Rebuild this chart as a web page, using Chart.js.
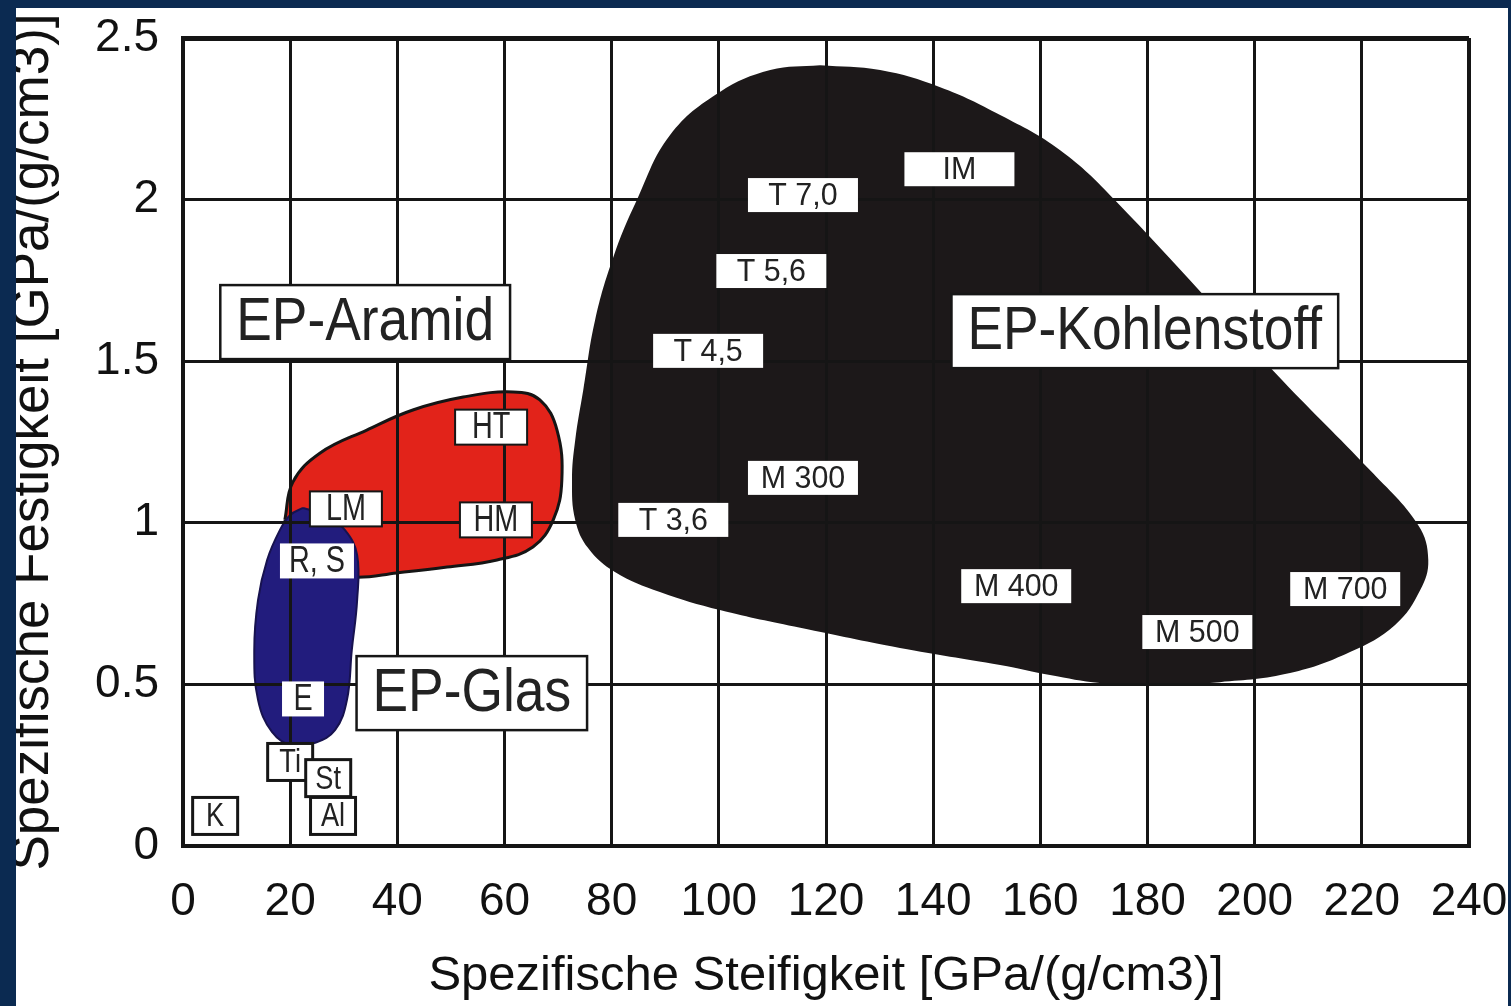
<!DOCTYPE html>
<html>
<head>
<meta charset="utf-8">
<script src="https://cdn.jsdelivr.net/npm/chart.js@4.4.1/dist/chart.umd.min.js"></script>
<style>
  html, body { margin: 0; padding: 0; background: #0b2a51; }
  body { width: 1511px; height: 1006px; overflow: hidden; position: relative; }
  #wrap { position: absolute; left: 16px; top: 8px; width: 1492px; height: 998px; background: #fff; }
</style>
</head>
<body>
<div id="wrap"><canvas id="chart" width="1492" height="998"></canvas></div>
<script>
// outlines of the three material regions (spec. stiffness, spec. strength)
const glassX = [22.4, 26.5, 30.2, 32.5, 32.5, 31.5, 30.6, 28.4, 24.6, 20.5, 16.6, 14.0, 13.3, 14.0, 15.7, 18.1, 20.0];
const glassY = [1.046, 1.024, 0.978, 0.900, 0.761, 0.606, 0.452, 0.359, 0.319, 0.309, 0.353, 0.452, 0.606, 0.761, 0.885, 0.978, 1.024];

const aramidX = [19.0, 20.5, 25.6, 34.3, 42.9, 52.3, 61.6, 66.6, 69.8, 70.7, 69.1, 65.3, 58.6, 49.3, 39.9, 32.1, 25.6, 20.9];
const aramidY = [1.009, 1.126, 1.216, 1.287, 1.349, 1.389, 1.405, 1.380, 1.287, 1.132, 1.009, 0.925, 0.885, 0.863, 0.845, 0.832, 0.854, 0.916];

const carbonX = [118.9, 130.1, 141.3, 152.5, 163.7, 173.9, 205.1, 221.5, 230.5, 232.4, 230.9, 226.2,
                 217.8, 206.6, 193.5, 180.5, 171.1, 161.8, 152.5, 133.8, 115.2, 100.2, 89.0, 80.6, 75.6, 73.2, 72.6, 73.2,
                 74.7, 76.9, 80.3, 84.7, 90.9, 100.2, 109.6];
const carbonY = [2.416, 2.401, 2.348, 2.262, 2.153, 1.999, 1.442, 1.163, 0.993, 0.885, 0.792, 0.684,
                 0.600, 0.535, 0.507, 0.498, 0.504, 0.529, 0.560, 0.613, 0.675, 0.730, 0.786, 0.848, 0.922, 1.009, 1.132, 1.256,
                 1.411, 1.627, 1.822, 1.999, 2.200, 2.333, 2.401];

// labels
const regionNames = ['EP-Aramid', 'EP-Kohlenstoff', 'EP-Glas'];
const regionLabelX = [34.0, 179.5, 53.9];
const regionLabelY = [1.621, 1.593, 0.473];

const carbonTypes = ['IM', 'T 7,0', 'T 5,6', 'T 4,5', 'M 300', 'T 3,6', 'M 400', 'M 500', 'M 700'];
const carbonTypeX = [144.9, 115.7, 109.8, 98.0, 115.7, 91.5, 155.5, 189.3, 216.9];
const carbonTypeY = [2.094, 2.014, 1.779, 1.532, 1.139, 1.009, 0.804, 0.662, 0.795];

const aramidTypes = ['HT', 'LM', 'HM'];
const aramidTypeX = [57.5, 30.4, 58.4];
const aramidTypeY = [1.296, 1.043, 1.009];

const glassTypes = ['R, S', 'E'];
const glassTypeX = [25.0, 22.4];
const glassTypeY = [0.882, 0.455];

const metalNames = ['Ti', 'St', 'Al', 'K'];
const metalX = [20.0, 27.1, 28.0, 6.0];
const metalY = [0.260, 0.210, 0.093, 0.093];

const xTicks = [0, 20, 40, 60, 80, 100, 120, 140, 160, 180, 200, 220, 240];
const yTicks = [0, 0.5, 1, 1.5, 2, 2.5];

const FONT = '"Liberation Sans", Arial, sans-serif';

function region(label, xs, ys, fill, line, width) {
    const pts = xs.map((x, i) => ({ x, y: ys[i] }));
    pts.push(pts[0]); // close the outline
    return {
        label,
        data: pts,
        showLine: true,
        fill: 'shape',
        backgroundColor: fill,
        borderColor: line,
        borderWidth: width,
        pointRadius: 0,
        pointHoverRadius: 0,
        tension: 0.4
    };
}

const labelGroups = [
    { names: regionNames, xs: regionLabelX, ys: regionLabelY, font: 62, squeeze: 0.86, minW: 0, pad: 16, h: 74, border: 2.5 },
    { names: carbonTypes, xs: carbonTypeX, ys: carbonTypeY, font: 32, squeeze: 0.95, minW: 110, pad: 8, h: 34, border: 0 },
    { names: aramidTypes, xs: aramidTypeX, ys: aramidTypeY, font: 36, squeeze: 0.8, minW: 72, pad: 8, h: 35, border: 2 },
    { names: glassTypes, xs: glassTypeX, ys: glassTypeY, font: 36, squeeze: 0.8, minW: 42, pad: 9, h: 35, border: 0 },
    { names: metalNames, xs: metalX, ys: metalY, font: 34, squeeze: 0.8, minW: 45, pad: 8, h: 37, border: 3 }
];

const boxLabels = {
    id: 'boxLabels',
    afterDraw(chart) {
        const { ctx, scales: { x, y } } = chart;
        labelGroups.forEach(g => {
            g.names.forEach((name, i) => {
                const cx = x.getPixelForValue(g.xs[i]);
                const cy = y.getPixelForValue(g.ys[i]);
                ctx.save();
                ctx.font = `${g.font}px ${FONT}`;
                const tw = ctx.measureText(name).width * g.squeeze;
                const w = Math.max(g.minW, tw + 2 * g.pad);
                ctx.fillStyle = '#fff';
                ctx.fillRect(cx - w / 2, cy - g.h / 2, w, g.h);
                if (g.border) {
                    ctx.lineWidth = g.border;
                    ctx.strokeStyle = '#161616';
                    ctx.strokeRect(cx - w / 2, cy - g.h / 2, w, g.h);
                }
                ctx.translate(cx, cy + 1);
                ctx.scale(g.squeeze, 1);
                ctx.fillStyle = '#222';
                ctx.textAlign = 'center';
                ctx.textBaseline = 'middle';
                ctx.fillText(name, 0, 0);
                ctx.restore();
            });
        });
    }
};

const ctx = document.getElementById('chart');

const chart = new Chart(ctx, {
    type: 'scatter',
    data: {
        datasets: [
            region('EP-Glas', glassX, glassY, '#221c7d', '#17124f', 2),
            region('EP-Aramid', aramidX, aramidY, '#e2231a', '#151515', 3),
            region('EP-Kohlenstoff', carbonX, carbonY, '#1c1819', '#1c1819', 0)
        ]
    },
    options: {
        responsive: false,
        animation: false,
        layout: { padding: { left: 0, right: 39, top: 30, bottom: 0 } },
        plugins: {
            legend: { display: false },
            tooltip: { enabled: false }
        },
        scales: {
            x: {
                type: 'linear',
                min: 0,
                max: 240,
                afterFit: s => {
                    s.height = 160;
                    s.paddingLeft = 0;
                    s.paddingRight = 0;
                },
                afterBuildTicks: s => { s.ticks = xTicks.map(v => ({ value: v })); },
                grid: {
                    z: 1,
                    color: '#151515',
                    lineWidth: c => (c.tick && c.tick.value === 240 ? 4 : 3),
                    drawTicks: false
                },
                border: { z: 1, color: '#151515', width: 4 },
                ticks: {
                    padding: 29,
                    color: '#111',
                    font: { family: FONT, size: 46 }
                },
                title: {
                    display: true,
                    text: 'Spezifische Steifigkeit [GPa/(g/cm3)]',
                    color: '#111',
                    font: { family: FONT, size: 49 },
                    padding: { top: 0, bottom: 0 }
                }
            },
            y: {
                type: 'linear',
                min: 0,
                max: 2.5,
                afterFit: s => {
                    s.width = 167;
                    s.paddingTop = 0;
                    s.paddingBottom = 0;
                },
                afterBuildTicks: s => { s.ticks = yTicks.map(v => ({ value: v })); },
                grid: {
                    z: 1,
                    color: '#151515',
                    lineWidth: c => (c.tick && c.tick.value === 2.5 ? 5 : 3),
                    drawTicks: false
                },
                border: { z: 1, color: '#151515', width: 4 },
                ticks: {
                    padding: 24,
                    color: '#111',
                    font: { family: FONT, size: 46 },
                    callback: v => String(v)
                },
                title: {
                    display: true,
                    text: 'Spezifische Festigkeit [GPa/(g/cm3)]',
                    color: '#111',
                    font: { family: FONT, size: 53, lineHeight: 0.65 },
                    padding: { top: 0, bottom: 0 }
                }
            }
        }
    },
    plugins: [boxLabels]
});
</script>
</body>
</html>
